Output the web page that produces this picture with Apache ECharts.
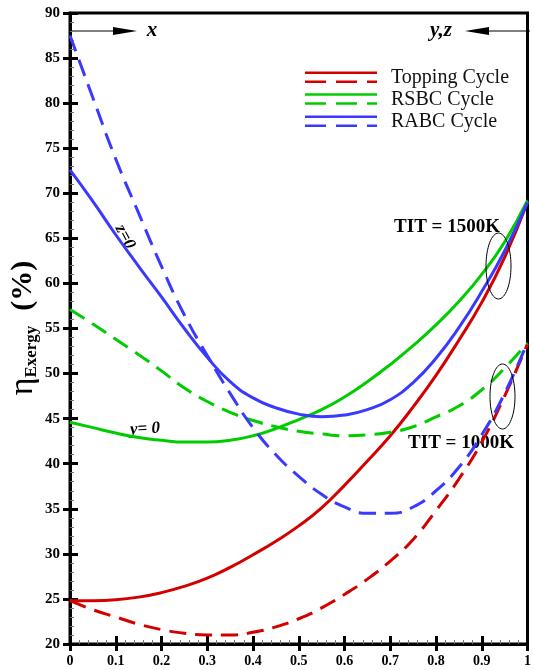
<!DOCTYPE html>
<html>
<head>
<meta charset="utf-8">
<script src="https://cdn.jsdelivr.net/npm/echarts@6/dist/echarts.min.js"></script>
<style>html,body{margin:0;padding:0;background:#fff}#c{width:534px;height:670px}</style>
</head>
<body>
<div id="c"></div>
<script>
const xs = [0, 0.05, 0.1, 0.15, 0.2, 0.25, 0.3, 0.35, 0.4, 0.45, 0.5, 0.55, 0.6, 0.65, 0.7, 0.75, 0.8, 0.85, 0.9, 0.95, 1.0];
const toppingSolid  = [24.8, 24.8, 24.9, 25.2, 25.7, 26.4, 27.3, 28.5, 29.9, 31.4, 33.1, 35.1, 37.6, 40.3, 43.1, 46.3, 49.8, 53.7, 57.9, 62.9, 69.0];
const toppingDashed = [24.8, 23.8, 23.0, 22.2, 21.6, 21.2, 21.0, 21.0, 21.3, 21.9, 22.8, 24.0, 25.5, 27.2, 29.2, 31.6, 34.8, 38.3, 42.4, 47.5, 53.3];
const rsbcSolid     = [44.6, 44.0, 43.4, 42.9, 42.6, 42.4, 42.4, 42.6, 43.1, 43.9, 44.9, 46.0, 47.4, 49.1, 51.0, 53.1, 55.4, 58.0, 61.0, 64.6, 69.2];
const rsbcDashed    = [57.1, 55.5, 53.8, 52.1, 50.3, 48.4, 46.9, 45.7, 44.8, 44.1, 43.6, 43.3, 43.1, 43.2, 43.5, 44.1, 45.2, 46.4, 48.2, 50.6, 53.4];
const rabcSolid     = [72.6, 69.1, 65.4, 61.9, 58.5, 55.0, 51.8, 49.1, 47.3, 46.2, 45.5, 45.2, 45.4, 46.0, 47.1, 49.0, 51.7, 55.1, 59.1, 63.6, 69.0];
const rabcDashed    = [87.5, 80.6, 73.8, 67.8, 61.9, 56.5, 52.0, 47.8, 44.0, 41.0, 38.6, 36.6, 35.2, 34.5, 34.5, 35.2, 37.0, 39.6, 43.2, 47.8, 53.5];
const legendNames = ['Topping Cycle', 'RSBC Cycle', 'RABC Cycle'];
const colors = ['#d40000', '#00cc00', '#3a3aff'];

const pairs = arr => xs.map((x, i) => [x, arr[i]]);
const mk = (data, color, dashed) => ({
  type: 'line', smooth: true, symbol: 'none', data: pairs(data),
  xAxisIndex: 0, yAxisIndex: 0,
  lineStyle: { color: color, width: 3, type: dashed ? [17, 9] : 'solid' },
  z: 3
});

const serif = 'Liberation Serif, Times New Roman, serif';
const axisCommonX = { type: 'value', min: 0, max: 1, interval: 0.1 };
const axisCommonY = { type: 'value', min: 20, max: 90, interval: 5 };

const chart = echarts.init(document.getElementById('c'));
const legendGraphics = [];
legendNames.forEach((n, i) => {
  const ys = [72.7, 94.5, 116.7][i];
  legendGraphics.push({ type: 'line', shape: { x1: 305, y1: ys, x2: 377, y2: ys }, style: { stroke: colors[i], lineWidth: 2.5 } });
  legendGraphics.push({ type: 'line', shape: { x1: 305, y1: ys + 9, x2: 377, y2: ys + 9 }, style: { stroke: colors[i], lineWidth: 2.5, lineDash: [21, 10] } });
  legendGraphics.push({ type: 'text', x: 391, y: ys + 5, style: { text: n, font: '20px ' + serif, fill: '#111', verticalAlign: 'middle' } });
});

chart.setOption({
  animation: false,
  grid: { left: 70, right: 3, top: 13, bottom: 26, show: true, borderColor: '#000', borderWidth: 3 },
  xAxis: [
    Object.assign({}, axisCommonX, {
      position: 'bottom',
      axisLine: { lineStyle: { color: '#000', width: 3 } },
      axisTick: { inside: false, length: 7, lineStyle: { color: '#000', width: 3 } },
      axisLabel: { margin: 10, color: '#000', fontFamily: serif, fontWeight: 'bold', fontSize: 14 },
      splitLine: { show: false }
    }),
    Object.assign({}, axisCommonX, {
      position: 'bottom',
      axisLine: { show: false },
      axisTick: { inside: true, length: 8, lineStyle: { color: '#000', width: 3 } },
      minorTick: { show: true, splitNumber: 5, length: 4, lineStyle: { color: '#777', width: 1 } },
      axisLabel: { show: false },
      splitLine: { show: false }
    })
  ],
  yAxis: [
    Object.assign({}, axisCommonY, {
      position: 'left',
      axisLine: { lineStyle: { color: '#000', width: 3 } },
      axisTick: { inside: false, length: 7, lineStyle: { color: '#000', width: 3 } },
      axisLabel: { margin: 10, color: '#000', fontFamily: serif, fontWeight: 'bold', fontSize: 15 },
      splitLine: { show: false }
    }),
    Object.assign({}, axisCommonY, {
      position: 'left',
      axisLine: { show: false },
      axisTick: { inside: true, length: 8, lineStyle: { color: '#000', width: 3 } },
      minorTick: { show: true, splitNumber: 5, length: 4, lineStyle: { color: '#777', width: 1 } },
      axisLabel: { show: false },
      splitLine: { show: false }
    })
  ],
  series: [
    mk(toppingSolid, colors[0], false),
    mk(toppingDashed, colors[0], true),
    mk(rsbcSolid, colors[1], false),
    mk(rsbcDashed, colors[1], true),
    mk(rabcSolid, colors[2], false),
    mk(rabcDashed, colors[2], true)
  ],
  graphic: [
    { type: 'text', x: 23, y: 328, rotation: Math.PI / 2,
      style: { text: '{eta|η}{sub|Exergy}{p|  (%)}', align: 'center', verticalAlign: 'middle', fill: '#000',
        rich: {
          eta: { fontFamily: serif, fontSize: 34, fill: '#000' },
          sub: { fontFamily: serif, fontSize: 17, fontWeight: 'bold', fill: '#000', verticalAlign: 'bottom', padding: [16, 0, 0, 0] },
          p: { fontFamily: serif, fontSize: 30, fontWeight: 'bold', fill: '#000' }
        } } },
    { type: 'line', shape: { x1: 71, y1: 31, x2: 118, y2: 31 }, style: { stroke: '#000', lineWidth: 1.2 } },
    { type: 'polygon', shape: { points: [[113, 27], [137, 31], [113, 35]] }, style: { fill: '#000' } },
    { type: 'text', x: 152, y: 31, style: { text: 'x', font: 'italic bold 21px ' + serif, fill: '#000', align: 'center', verticalAlign: 'middle' } },
    { type: 'line', shape: { x1: 485, y1: 31, x2: 530, y2: 31 }, style: { stroke: '#000', lineWidth: 1.2 } },
    { type: 'polygon', shape: { points: [[489, 27], [465, 31], [489, 35]] }, style: { fill: '#000' } },
    { type: 'text', x: 441, y: 31, style: { text: 'y,z', font: 'italic bold 21px ' + serif, fill: '#000', align: 'center', verticalAlign: 'middle' } },
    { type: 'text', x: 447, y: 227, style: { text: 'TIT = 1500K', font: 'bold 19px ' + serif, fill: '#000', align: 'center', verticalAlign: 'middle' } },
    { type: 'text', x: 461, y: 443, style: { text: 'TIT = 1000K', font: 'bold 19px ' + serif, fill: '#000', align: 'center', verticalAlign: 'middle' } },
    { type: 'ellipse', shape: { cx: 498.5, cy: 266, rx: 12.5, ry: 33 }, style: { stroke: '#000', fill: null, lineWidth: 1 }, z: 10 },
    { type: 'ellipse', shape: { cx: 502.5, cy: 396.5, rx: 12.5, ry: 32.5 }, style: { stroke: '#000', fill: null, lineWidth: 1 }, z: 10 },
    { type: 'text', x: 125, y: 237, rotation: -62 * Math.PI / 180, style: { text: 'z=0', font: 'italic bold 17px ' + serif, fill: '#000', align: 'center', verticalAlign: 'middle' } },
    { type: 'text', x: 145, y: 429, rotation: 3 * Math.PI / 180, style: { text: 'y= 0', font: 'italic bold 17px ' + serif, fill: '#000', align: 'center', verticalAlign: 'middle' } }
  ].concat(legendGraphics)
});
</script>
</body>
</html>
